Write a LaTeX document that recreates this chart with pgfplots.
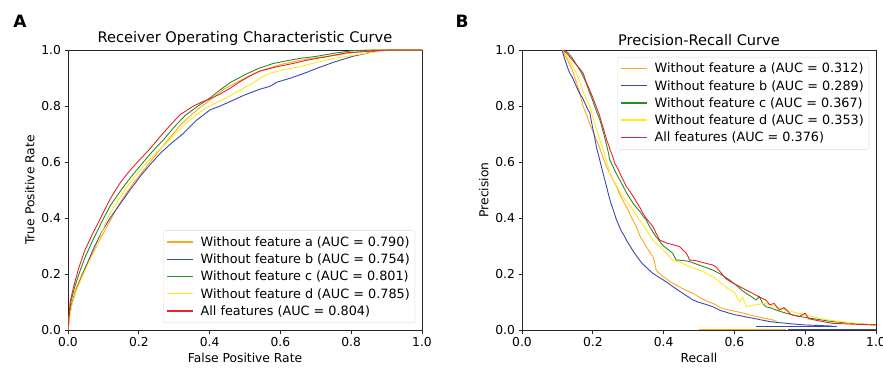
\documentclass[border=0pt]{standalone}
\usepackage{pgfplots}
\pgfplotsset{compat=1.18}
\usepackage{fontspec}
\setmainfont{DejaVu Sans}
\definecolor{cA}{RGB}{255,165,32}
\definecolor{cB}{RGB}{58,72,176}
\definecolor{cC}{RGB}{40,138,40}
\definecolor{cD}{RGB}{255,232,30}
\definecolor{cE}{RGB}{235,35,40}
\pgfplotsset{
  myaxis/.style={
    scale only axis, width=354pt, height=280pt,
    xmin=0, xmax=1, ymin=0, ymax=1,
    xtick={0,0.2,0.4,0.6,0.8,1.0}, ytick={0,0.2,0.4,0.6,0.8,1.0},
    tick pos=left, tick align=outside, major tick length=3.5pt,
    axis line style={black!85, line width=0.8pt},
    every tick/.style={black!85, line width=0.8pt},
    /pgf/number format/.cd, fixed, fixed zerofill, precision=1, assume math mode=true, /pgfplots/.cd,
    tick label style={font=\fontsize{12.3}{14}\selectfont},
    label style={font=\fontsize{12.3}{14}\selectfont},
    title style={font=\fontsize{14.6}{17}\selectfont, at={(0.5,1)}, anchor=south, yshift=-5pt},
    legend cell align=left,
    legend image code/.code={\draw[#1, line width=1.4pt] (0pt,0.3pt) -- (26pt,0.3pt);},
    legend style={draw=black!15, rounded corners=2pt, font=\fontsize{12.8}{14}\selectfont,
      row sep=2pt, inner xsep=3pt, inner ysep=4pt,
      /tikz/every odd column/.append style={column sep=5pt}},
    every axis plot/.append style={line width=0.9pt, line join=round},
  }
}
\begin{document}
\begin{tikzpicture}
\useasboundingbox (0,0) rectangle (883pt,370pt);
\node[font=\bfseries\fontsize{17}{20}\selectfont] at (20pt,349pt) {A};
\node[font=\bfseries\fontsize{17}{20}\selectfont] at (462pt,349pt) {B};
\begin{axis}[myaxis, at={(68pt,40pt)}, anchor=south west,
  title={Receiver Operating Characteristic Curve},
  xlabel={False Positive Rate}, ylabel={True Positive Rate},
  legend style={at={(1,0)}, anchor=south east, xshift=-7pt, yshift=7pt}]
\addplot[cA] coordinates {(0,0) (0.003,0.04) (0.01,0.09) (0.02,0.14) (0.04,0.20) (0.06,0.25) (0.08,0.30) (0.10,0.345) (0.119,0.39) (0.14,0.44) (0.16,0.48) (0.185,0.525) (0.21,0.565) (0.232,0.60) (0.26,0.645) (0.29,0.69) (0.32,0.735) (0.35,0.77) (0.378,0.80) (0.41,0.83) (0.44,0.86) (0.47,0.88) (0.50,0.9) (0.53,0.918) (0.56,0.932) (0.60,0.948) (0.65,0.962) (0.70,0.972) (0.75,0.98) (0.80,0.99) (0.86,1.0) (1,1)};
\addlegendentry{Without feature a (AUC = 0.790)}
\addplot[cB] coordinates {(0,0) (0.004,0.05) (0.01,0.09) (0.024,0.145) (0.045,0.21) (0.072,0.29) (0.095,0.35) (0.119,0.40) (0.15,0.455) (0.175,0.50) (0.208,0.555) (0.235,0.595) (0.26,0.63) (0.29,0.665) (0.326,0.702) (0.364,0.75) (0.401,0.786) (0.43,0.80) (0.467,0.821) (0.50,0.84) (0.542,0.86) (0.57,0.87) (0.59,0.885) (0.63,0.9) (0.674,0.92) (0.71,0.938) (0.75,0.956) (0.806,0.978) (0.85,0.99) (0.88,0.998) (0.92,1.0) (1,1)};
\addlegendentry{Without feature b (AUC = 0.754)}
\addplot[cC] coordinates {(0,0) (0.003,0.045) (0.008,0.10) (0.018,0.15) (0.035,0.215) (0.05,0.265) (0.07,0.32) (0.098,0.393) (0.12,0.445) (0.15,0.50) (0.18,0.55) (0.213,0.60) (0.24,0.64) (0.27,0.68) (0.30,0.725) (0.33,0.765) (0.367,0.80) (0.40,0.828) (0.43,0.858) (0.46,0.885) (0.505,0.915) (0.54,0.935) (0.58,0.952) (0.62,0.962) (0.655,0.97) (0.70,0.977) (0.75,0.988) (0.80,0.997) (0.85,1.0) (1,1)};
\addlegendentry{Without feature c (AUC = 0.801)}
\addplot[cD] coordinates {(0,0) (0.004,0.04) (0.01,0.085) (0.02,0.13) (0.04,0.19) (0.06,0.245) (0.08,0.295) (0.109,0.393) (0.13,0.44) (0.16,0.50) (0.19,0.55) (0.224,0.60) (0.25,0.635) (0.28,0.67) (0.31,0.71) (0.34,0.745) (0.37,0.775) (0.392,0.795) (0.42,0.812) (0.45,0.83) (0.486,0.857) (0.52,0.88) (0.55,0.905) (0.57,0.917) (0.61,0.93) (0.655,0.94) (0.70,0.955) (0.75,0.97) (0.80,0.98) (0.85,0.99) (0.90,1.0) (1,1)};
\addlegendentry{Without feature d (AUC = 0.785)}
\addplot[cE] coordinates {(0,0) (0.003,0.05) (0.006,0.10) (0.015,0.15) (0.03,0.22) (0.048,0.286) (0.07,0.345) (0.09,0.395) (0.12,0.47) (0.147,0.525) (0.175,0.57) (0.2,0.605) (0.23,0.645) (0.26,0.69) (0.29,0.733) (0.316,0.768) (0.354,0.80) (0.38,0.815) (0.40,0.825) (0.43,0.843) (0.46,0.865) (0.486,0.887) (0.515,0.908) (0.542,0.925) (0.59,0.94) (0.636,0.952) (0.68,0.965) (0.73,0.976) (0.787,0.99) (0.85,0.995) (0.91,1.0) (1,1)};
\addlegendentry{All features (AUC = 0.804)}
\end{axis}
\begin{axis}[myaxis, at={(522pt,40pt)}, anchor=south west,
  title={Precision-Recall Curve},
  xlabel={Recall}, ylabel={Precision},
  legend style={at={(1,1)}, anchor=north east, xshift=-7pt, yshift=-7pt}]
\addplot[cA] coordinates {(0.113,1.0) (0.13,0.96) (0.138,0.94) (0.145,0.917) (0.152,0.89) (0.16,0.86) (0.166,0.83) (0.173,0.797) (0.182,0.77) (0.19,0.74) (0.2,0.71) (0.21,0.679) (0.218,0.655) (0.225,0.63) (0.232,0.605) (0.239,0.583) (0.246,0.565) (0.252,0.55) (0.26,0.53) (0.267,0.512) (0.274,0.49) (0.28,0.475) (0.288,0.455) (0.295,0.44) (0.303,0.42) (0.31,0.40) (0.316,0.385) (0.323,0.369) (0.33,0.345) (0.335,0.33) (0.343,0.315) (0.351,0.298) (0.36,0.28) (0.37,0.262) (0.374,0.245) (0.379,0.214) (0.39,0.2) (0.40,0.19) (0.413,0.178) (0.426,0.167) (0.44,0.158) (0.45,0.15) (0.466,0.14) (0.483,0.131) (0.497,0.12) (0.51,0.11) (0.525,0.102) (0.539,0.095) (0.55,0.088) (0.56,0.08) (0.586,0.071) (0.62,0.062) (0.64,0.055) (0.661,0.048) (0.685,0.042) (0.708,0.036) (0.72,0.03)};
\addlegendentry{Without feature a (AUC = 0.312)}
\addplot[cB] coordinates {(0.113,1.0) (0.12,0.97) (0.128,0.94) (0.135,0.917) (0.143,0.9) (0.15,0.88) (0.157,0.86) (0.163,0.845) (0.17,0.83) (0.178,0.81) (0.185,0.79) (0.192,0.774) (0.196,0.745) (0.20,0.72) (0.205,0.69) (0.21,0.655) (0.218,0.615) (0.225,0.58) (0.232,0.545) (0.239,0.512) (0.245,0.48) (0.252,0.45) (0.26,0.42) (0.267,0.393) (0.273,0.375) (0.28,0.355) (0.288,0.338) (0.295,0.321) (0.305,0.30) (0.315,0.28) (0.323,0.265) (0.332,0.25) (0.34,0.237) (0.35,0.225) (0.36,0.213) (0.37,0.202) (0.385,0.19) (0.40,0.178) (0.413,0.167) (0.426,0.155) (0.44,0.143) (0.455,0.13) (0.47,0.118) (0.483,0.107) (0.497,0.1) (0.51,0.095) (0.525,0.089) (0.539,0.083) (0.55,0.076) (0.56,0.07) (0.573,0.065) (0.586,0.06) (0.60,0.055) (0.62,0.05) (0.64,0.045) (0.66,0.04) (0.68,0.035) (0.70,0.03) (0.72,0.027) (0.746,0.024) (0.77,0.021) (0.80,0.018) (0.84,0.016) (0.877,0.014)};
\addlegendentry{Without feature b (AUC = 0.289)}
\addplot[cC] coordinates {(0.118,1.0) (0.13,0.99) (0.14,0.975) (0.148,0.96) (0.155,0.945) (0.165,0.925) (0.173,0.905) (0.182,0.88) (0.19,0.85) (0.198,0.825) (0.205,0.80) (0.212,0.775) (0.22,0.75) (0.228,0.715) (0.235,0.68) (0.242,0.645) (0.248,0.607) (0.255,0.59) (0.262,0.57) (0.27,0.55) (0.276,0.536) (0.285,0.515) (0.295,0.49) (0.305,0.47) (0.314,0.452) (0.325,0.435) (0.335,0.42) (0.343,0.405) (0.351,0.393) (0.358,0.375) (0.365,0.36) (0.372,0.345) (0.379,0.333) (0.39,0.315) (0.40,0.30) (0.413,0.287) (0.426,0.274) (0.431,0.26) (0.436,0.25) (0.455,0.248) (0.473,0.245) (0.487,0.238) (0.50,0.232) (0.52,0.223) (0.539,0.214) (0.55,0.207) (0.56,0.20) (0.573,0.19) (0.586,0.179) (0.598,0.167) (0.61,0.155) (0.62,0.143) (0.633,0.131) (0.647,0.12) (0.661,0.107) (0.67,0.12) (0.68,0.095) (0.689,0.083) (0.705,0.078) (0.72,0.07) (0.733,0.065) (0.746,0.06) (0.77,0.052) (0.80,0.045) (0.84,0.037) (0.877,0.03) (0.95,0.022) (1.0,0.018)};
\addlegendentry{Without feature c (AUC = 0.367)}
\addplot[cD] coordinates {(0.115,1.0) (0.122,0.985) (0.13,0.97) (0.142,0.945) (0.154,0.917) (0.162,0.89) (0.17,0.86) (0.18,0.83) (0.192,0.797) (0.198,0.77) (0.205,0.74) (0.212,0.71) (0.22,0.679) (0.228,0.65) (0.235,0.62) (0.242,0.59) (0.248,0.56) (0.256,0.54) (0.265,0.52) (0.275,0.497) (0.285,0.476) (0.298,0.455) (0.31,0.435) (0.32,0.415) (0.332,0.393) (0.342,0.377) (0.35,0.36) (0.36,0.34) (0.37,0.321) (0.385,0.303) (0.40,0.285) (0.413,0.267) (0.426,0.25) (0.438,0.245) (0.45,0.24) (0.462,0.233) (0.473,0.226) (0.487,0.22) (0.50,0.215) (0.52,0.203) (0.539,0.19) (0.55,0.18) (0.56,0.17) (0.573,0.157) (0.586,0.143) (0.60,0.135) (0.615,0.10) (0.623,0.119) (0.633,0.083) (0.645,0.086) (0.66,0.09) (0.675,0.093) (0.689,0.095) (0.705,0.088) (0.72,0.08) (0.746,0.071) (0.77,0.063) (0.80,0.055) (0.839,0.042) (0.87,0.035) (0.90,0.03) (0.943,0.024) (1.0,0.015)};
\addlegendentry{Without feature d (AUC = 0.353)}
\addplot[cE] coordinates {(0.115,1.0) (0.125,0.99) (0.135,0.975) (0.145,0.96) (0.155,0.945) (0.165,0.93) (0.173,0.917) (0.18,0.89) (0.19,0.86) (0.2,0.83) (0.21,0.797) (0.218,0.77) (0.225,0.74) (0.232,0.71) (0.239,0.679) (0.245,0.66) (0.25,0.64) (0.256,0.62) (0.262,0.595) (0.27,0.578) (0.28,0.55) (0.288,0.53) (0.295,0.512) (0.305,0.495) (0.315,0.475) (0.322,0.46) (0.332,0.44) (0.34,0.42) (0.35,0.40) (0.36,0.385) (0.37,0.369) (0.379,0.345) (0.389,0.321) (0.40,0.315) (0.41,0.31) (0.425,0.305) (0.445,0.298) (0.455,0.285) (0.464,0.274) (0.47,0.26) (0.473,0.25) (0.49,0.248) (0.505,0.243) (0.52,0.238) (0.539,0.232) (0.548,0.225) (0.555,0.215) (0.565,0.2) (0.577,0.182) (0.59,0.172) (0.6,0.165) (0.615,0.155) (0.633,0.143) (0.645,0.135) (0.66,0.125) (0.675,0.115) (0.689,0.107) (0.70,0.09) (0.712,0.095) (0.727,0.071) (0.74,0.08) (0.76,0.055) (0.783,0.048) (0.80,0.06) (0.81,0.04) (0.83,0.035) (0.85,0.03) (0.877,0.024) (0.95,0.02) (1.0,0.018)};
\addlegendentry{All features (AUC = 0.376)}
\addplot[cA, forget plot] coordinates {(0.50,0.002) (0.746,0.002)};
\addplot[cB, forget plot] coordinates {(0.66,0.012) (0.89,0.012)};
\addplot[cB, forget plot] coordinates {(0.75,0.002) (1.0,0.002)};
\end{axis}
\end{tikzpicture}
\end{document}
